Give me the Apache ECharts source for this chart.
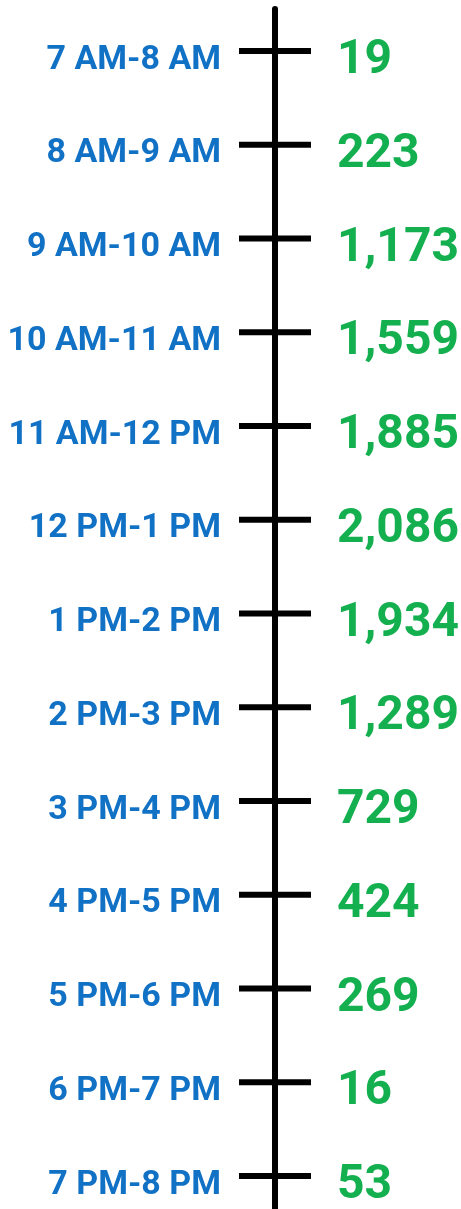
<!DOCTYPE html>
<html>
<head>
<meta charset="utf-8">
<script src="https://cdn.jsdelivr.net/npm/echarts@6/dist/echarts.min.js"></script>
<style>
  html, body { margin: 0; padding: 0; background: #fff; }
  #chart { width: 461px; height: 1209px; }
</style>
</head>
<body>
<div id="chart"></div>
<script>
var hours = ['7 AM-8 AM', '8 AM-9 AM', '9 AM-10 AM', '10 AM-11 AM', '11 AM-12 PM', '12 PM-1 PM',
  '1 PM-2 PM', '2 PM-3 PM', '3 PM-4 PM', '4 PM-5 PM', '5 PM-6 PM', '6 PM-7 PM', '7 PM-8 PM'];
var counts = [19, 223, 1173, 1559, 1885, 2086, 1934, 1289, 729, 424, 269, 16, 53];

var blue = '#1171c5';
var green = '#14b050';

function fmtNum(n) {
  return String(n).replace(/\B(?=(\d{3})+(?!\d))/g, ',');
}

var chart = echarts.init(document.getElementById('chart'));

// one point per hour, sitting on the vertical axis
var points = [];
for (var i = 0; i < hours.length; i++) {
  points.push([0, i]);
}

var option = {
  animation: false,
  grid: { left: 275, top: 9, width: 100, height: 1214, outerBoundsMode: 'none', containLabel: false },
  xAxis: { type: 'value', min: 0, max: 1, show: false },
  yAxis: {
    type: 'value',
    inverse: true,
    min: -0.448,
    max: 12.5,
    axisLine: { show: true, lineStyle: { color: '#000', width: 6 } },
    axisTick: { show: false },
    axisLabel: { show: false },
    splitLine: { show: false }
  },
  series: [
    {
      // cross ticks + hour labels
      type: 'scatter',
      data: points,
      symbol: 'rect',
      symbolSize: [72, 6],
      itemStyle: { color: '#000', opacity: 1 },
      label: {
        show: true,
        position: 'left',
        distance: 18,
        offset: [0, 9],
        formatter: function (p) { return hours[p.dataIndex]; },
        color: blue,
        fontFamily: 'Roboto',
        fontWeight: 'bold',
        fontSize: 34
      }
    },
    {
      // counts on the right
      type: 'scatter',
      data: points,
      symbol: 'rect',
      symbolSize: [2, 2],
      itemStyle: { color: 'rgba(0,0,0,0)', opacity: 1 },
      label: {
        show: true,
        position: 'right',
        distance: 61,
        offset: [0, 10],
        formatter: function (p) { return fmtNum(counts[p.dataIndex]); },
        color: green,
        opacity: 1,
        fontFamily: 'Roboto',
        fontWeight: 'bold',
        fontSize: 48
      }
    }
  ]
};

chart.setOption(option);
</script>
</body>
</html>
